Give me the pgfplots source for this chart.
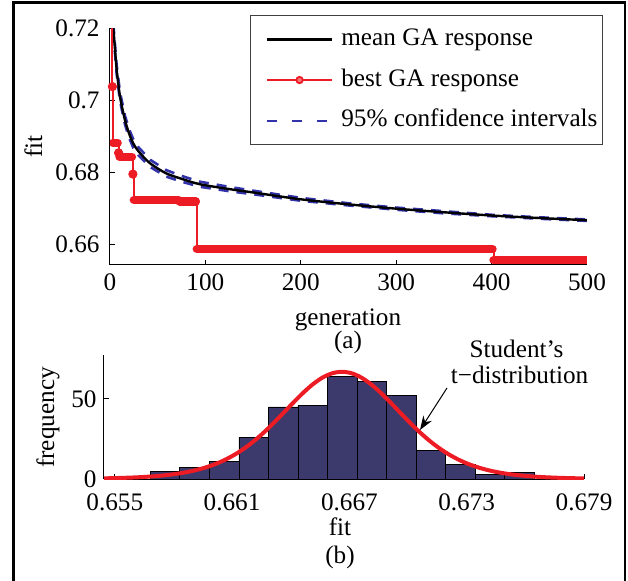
\documentclass[border=0pt]{standalone}
\usepackage{fontspec}
\setmainfont{Liberation Serif}
\usepackage{pgfplots}
\pgfplotsset{compat=1.18}
\usetikzlibrary{arrows.meta}
\definecolor{gared}{RGB}{237,28,36}
\definecolor{gablue}{RGB}{50,50,170}
\definecolor{hnavy}{RGB}{60,58,108}
\begin{document}
\fontsize{12.6}{15}\selectfont
\begin{tikzpicture}[font=\fontsize{12.6}{15}\selectfont]
\useasboundingbox (0,0) rectangle (314pt,290pt);
\draw[line width=1.3pt] (6.65pt,-5pt) -- (6.65pt,288.65pt) -- (312.5pt,288.65pt) -- (312.5pt,-5pt);

\begin{axis}[
  at={(55pt,157.5pt)}, anchor=south west,
  scale only axis, width=238.5pt, height=118.35pt,
  xmin=0, xmax=500, ymin=0.65425, ymax=0.72,
  axis lines=left, axis line style={-, line width=0.5pt},
  tick align=inside, major tick length=2.5pt,
  tick style={line width=0.5pt, black},
  xtick={0,100,200,300,400,500}, xticklabels={0,100,200,300,400,500},
  ytick={0.66,0.68,0.7,0.72}, yticklabels={0.66,0.68,0.7,0.72},
  xticklabel style={inner sep=0pt, anchor=north},
  yticklabel style={inner sep=0pt, anchor=east},
  xticklabel shift=4pt, yticklabel shift=5pt,
  legend cell align=left,
  legend image code/.code={\path (0pt,0pt); \draw[mark repeat=2,mark phase=2,#1] plot coordinates {(5pt,0pt) (21.25pt,0pt) (37.5pt,0pt)};},
  legend style={at={(1.0335,1.056)}, anchor=north east,
    draw=black!75, line width=0.5pt, fill=white,
    inner xsep=2.5pt, inner ysep=6pt, row sep=8.25pt, column sep=4pt,
    nodes={inner sep=0pt, text height=9pt, text depth=3pt}},
]
% 95% confidence intervals
\addplot[gablue, line width=1.3pt, dash pattern=on 5pt off 4pt, forget plot] coordinates {
(3.5,0.7212) (5,0.7162) (7,0.7097) (10.5,0.7022) (15.7,0.6957) (20,0.6920) (24.4,0.6892) (30,0.6869) (42,0.6835) (59,0.6806) (75,0.6790) (94,0.6774) (126,0.6759) (150,0.6749) (200,0.6729) (250,0.6714) (300,0.6702) (350,0.6692) (400,0.6682) (450,0.6675) (500,0.6669)};
\addplot[gablue, line width=1.3pt, dash pattern=on 5pt off 4pt, forget plot] coordinates {
(3.5,0.7188) (5,0.7138) (7,0.7073) (10.5,0.6998) (15.7,0.6933) (20,0.6896) (24.4,0.6868) (30,0.6847) (42,0.6815) (59,0.6788) (75,0.6774) (94,0.6760) (126,0.6747) (150,0.6739) (200,0.6721) (250,0.6708) (300,0.6696) (350,0.6686) (400,0.6678) (450,0.6671) (500,0.6665)};
% mean GA response
\addplot[black, line width=1.2pt, smooth, forget plot] coordinates {
(3.5,0.7200) (5,0.7150) (7,0.7085) (10.5,0.7010) (15.7,0.6945) (20,0.6908) (24.4,0.6880) (30,0.6858) (42,0.6825) (59,0.6797) (75,0.6782) (94,0.6767) (126,0.6753) (150,0.6744) (200,0.6725) (250,0.6711) (300,0.6699) (350,0.6689) (400,0.6680) (450,0.6673) (500,0.6667)};
% best GA response: step line
\addplot[gared, line width=1pt, const plot, forget plot] coordinates {
(2,0.7200) (2.5,0.7038) (3,0.6882) (9,0.6854) (10,0.6843) (24,0.6795) (25,0.6723) (73,0.6719) (91,0.6587) (402,0.6556) (500,0.6556)};
% band of markers along the plateaus
\addplot[gared, line width=4.2pt, line cap=round, unbounded coords=jump, forget plot] coordinates {
(3,0.6882) (8,0.6882) (nan,nan) (10,0.6843) (23,0.6843) (nan,nan) (25,0.6723) (72,0.6723) (nan,nan) (73,0.6719) (90,0.6719) (nan,nan) (91,0.6587) (401,0.6587) (nan,nan) (402,0.6556) (500,0.6556)};
\addplot[gared, only marks, mark=*, mark size=2.1pt, forget plot] coordinates {
(2.5,0.7038) (9,0.6854) (24,0.6795)};
\addlegendimage{black, line width=1.3pt}
\addlegendentry{mean GA response}
\addlegendimage{gared, line width=0.9pt, mark=*, mark size=1.6pt, mark options={solid, fill=gared!60}}
\addlegendentry{best GA response}
\addlegendimage{gablue, line width=1pt, dash pattern=on 5pt off 7.5pt}
\addlegendentry{95\% confidence intervals}
\end{axis}

\node[rotate=90] at (16.75pt,216.65pt) {fit};
\node[anchor=base] at (174pt,127.5pt) {generation};
\node[anchor=base] at (174pt,116pt) {(a)};

\begin{axis}[
  at={(52pt,50.5pt)}, anchor=south west,
  scale only axis, width=240pt, height=62pt,
  xmin=0.65445, xmax=0.679, ymin=0, ymax=77.5,
  axis lines=left, axis line style={-, line width=0.5pt},
  tick align=inside, major tick length=2.5pt,
  tick style={line width=0.5pt, black},
  xtick={0.655,0.661,0.667,0.673,0.679}, xticklabels={0.655,0.661,0.667,0.673,0.679},
  ytick={0,50}, yticklabels={0,50},
  xticklabel style={inner sep=0pt, anchor=north},
  yticklabel style={inner sep=0pt, anchor=east},
  xticklabel shift=7pt, yticklabel shift=3.5pt,
]
\addplot[ybar interval, fill=hnavy, draw=black, line width=0.4pt] coordinates {
(0.65682,5) (0.65833,7) (0.65984,11) (0.66135,26) (0.66286,45) (0.66437,46) (0.66588,64) (0.66739,61) (0.66890,52) (0.67041,18) (0.67192,9) (0.67343,3) (0.67494,4) (0.67645,4)};
\addplot[gared, line width=2pt, smooth] coordinates {
(0.65445,0.42) (0.65462,0.45) (0.65512,0.60) (0.65562,0.79) (0.65612,1.04) (0.65662,1.37) (0.65712,1.82) (0.65762,2.40) (0.65812,3.16) (0.65862,4.16) (0.65912,5.45) (0.65962,7.12) (0.66012,9.23) (0.66062,11.87) (0.66112,15.13) (0.66162,19.06) (0.66212,23.70) (0.66262,29.01) (0.66312,34.91) (0.66362,41.20) (0.66412,47.58) (0.66462,53.69) (0.66512,59.09) (0.66562,63.34) (0.66612,66.06) (0.66662,67.00) (0.66712,66.06) (0.66762,63.34) (0.66812,59.09) (0.66862,53.69) (0.66912,47.58) (0.66962,41.20) (0.67012,34.91) (0.67062,29.01) (0.67112,23.70) (0.67162,19.06) (0.67212,15.13) (0.67262,11.87) (0.67312,9.23) (0.67362,7.12) (0.67412,5.45) (0.67462,4.16) (0.67512,3.16) (0.67562,2.40) (0.67612,1.82) (0.67662,1.37) (0.67712,1.04) (0.67762,0.79) (0.67812,0.60) (0.67862,0.45) (0.67900,0.37)};
\end{axis}

\node[rotate=90] at (24pt,81.25pt) {frequency};
\node[anchor=base] at (170pt,22.5pt) {fit};
\node[anchor=base] at (170pt,8.5pt) {(b)};
\node[anchor=base] at (258.25pt,111.5pt) {Student’s};
\node[anchor=base] at (259.75pt,98.5pt) {t−distribution};
\draw[line width=0.5pt, -{Stealth[length=7pt,width=5pt]}] (223.5pt,96pt) -- (210pt,75pt);
\end{tikzpicture}
\end{document}
